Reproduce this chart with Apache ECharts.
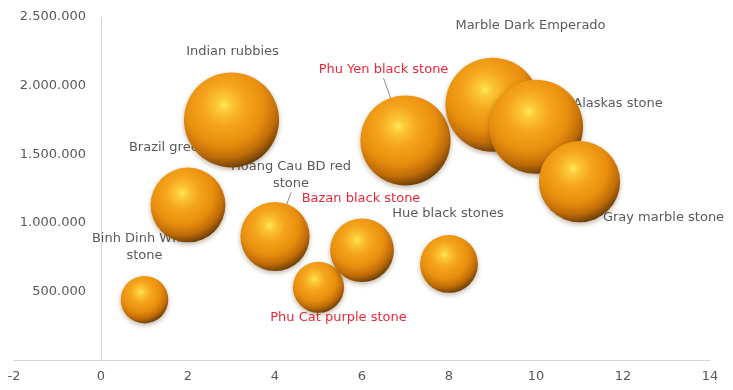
<!DOCTYPE html>
<html>
<head>
<meta charset="utf-8">
<script src="https://cdn.jsdelivr.net/npm/echarts@6/dist/echarts.min.js"></script>
<style>
  html, body { margin: 0; padding: 0; background: #ffffff; }
  #chart { width: 733px; height: 390px; }
</style>
</head>
<body>
<div id="chart"></div>
<script>
// Stone types, ordered by position on the horizontal axis
const stoneNames = [
  'Binh Dinh White\nstone',
  'Brazil green stone',
  'Indian rubbies',
  'Hoang Cau BD red\nstone',
  'Phu Cat purple stone',
  'Bazan black stone',
  'Phu Yen black stone',
  'Hue black stones',
  'Marble Dark Emperado',
  'Alaskas stone',
  'Gray marble stone'
];
const xValues = [1, 2, 3, 4, 5, 6, 7, 8, 9, 10, 11];
const yValues = [440000, 1130000, 1750000, 900000, 530000, 800000, 1600000, 700000, 1860000, 1700000, 1300000];
const bubbleSizes = [25, 62, 100, 53, 29, 45, 90, 37, 98, 98, 73];
// Local stones shown in red
const localStones = ['Phu Cat purple stone', 'Bazan black stone', 'Phu Yen black stone'];

// Axis ticks
const xTicks = [-2, 0, 2, 4, 6, 8, 10, 12, 14];
const yTicks = [0, 500000, 1000000, 1500000, 2000000, 2500000];

// Label placement relative to each bubble centre (pixels)
const labelOffsets = [[0, -53], [0, -57], [1, -68], [16, -61], [20, 30], [-1, -52], [-22, -71], [-1, -50], [38, -79], [82, -23], [84, 36]];
const labelLeaders = ['Hoang Cau BD red\nstone', 'Phu Yen black stone'];

const FONT = 'DejaVu Sans';
const FONT_SIZE = 13;
const LINE_H = 17;
const GREY = '#595959';
const RED = '#e8283a';
const AXIS = '#d4d4d4';

const fmtThousands = v => String(v).replace(/\B(?=(\d{3})+(?!\d))/g, '.');

const points = stoneNames.map((n, i) => [xValues[i], yValues[i], bubbleSizes[i]]);

// Labels (and their leader lines) are drawn in their own series beneath the bubbles
function renderLabel(params, api) {
  const i = params.dataIndex;
  const name = stoneNames[i];
  const c = api.coord([api.value(0), api.value(1)]);
  const off = labelOffsets[i];
  const lines = name.split('\n').length;
  const tx = c[0] + off[0];
  const ty = c[1] + off[1];
  const children = [];
  if (labelLeaders.includes(name)) {
    children.push({
      type: 'line',
      shape: { x1: tx, y1: ty + lines * LINE_H / 2, x2: c[0], y2: c[1] },
      style: { stroke: '#8c8c8c', lineWidth: 1 }
    });
  }
  children.push({
    type: 'text',
    x: tx,
    y: ty,
    style: {
      text: name,
      fill: localStones.includes(name) ? RED : GREY,
      fontFamily: FONT,
      fontSize: FONT_SIZE,
      lineHeight: LINE_H,
      align: 'center',
      verticalAlign: 'middle'
    }
  });
  return { type: 'group', children };
}

const chart = echarts.init(document.getElementById('chart'), null, { renderer: 'canvas' });
chart.setOption({
  animation: false,
  backgroundColor: '#ffffff',
  grid: { left: 14, right: 23, top: 17, bottom: 30, outerBoundsMode: 'none' },
  xAxis: {
    type: 'value',
    min: xTicks[0],
    max: xTicks[xTicks.length - 1],
    interval: xTicks[1] - xTicks[0],
    splitLine: { show: false },
    axisTick: { show: false },
    axisLine: { show: true, onZero: true, lineStyle: { color: AXIS, width: 1 } },
    axisLabel: { color: GREY, fontFamily: FONT, fontSize: 13, margin: 10 }
  },
  yAxis: {
    type: 'value',
    min: yTicks[0],
    max: yTicks[yTicks.length - 1],
    interval: yTicks[1] - yTicks[0],
    splitLine: { show: false },
    axisTick: { show: false },
    axisLine: { show: false, onZero: false },
    axisLabel: {
      color: GREY, fontFamily: FONT, fontSize: 13,
      // labels sit just left of the vertical line at x = 0
      margin: -72,
      showMinLabel: false,
      formatter: v => fmtThousands(v)
    }
  },
  series: [
    {
      type: 'custom',
      z: 1,
      silent: true,
      clip: false,
      data: points,
      renderItem: renderLabel,
      markLine: {
        silent: true,
        symbol: 'none',
        label: { show: false },
        lineStyle: { color: AXIS, width: 1, type: 'solid' },
        data: [[{ coord: [0, yTicks[0]] }, { coord: [0, yTicks[yTicks.length - 1]] }]]
      }
    },
    {
      type: 'scatter',
      z: 3,
      silent: true,
      data: points,
      symbolSize: v => Math.sqrt(v[2]) * 9.5,
      itemStyle: {
        opacity: 1,
        color: {
          type: 'radial', x: 0.42, y: 0.34, r: 0.7,
          colorStops: [
            { offset: 0, color: '#ffea5c' },
            { offset: 0.1, color: '#fcc93a' },
            { offset: 0.32, color: '#f5a41c' },
            { offset: 0.6, color: '#e88e0e' },
            { offset: 0.8, color: '#c06c08' },
            { offset: 0.93, color: '#7d4808' },
            { offset: 1, color: '#4a2c08' }
          ]
        },
        shadowColor: 'rgba(70,40,0,0.35)',
        shadowBlur: 5,
        shadowOffsetY: 2
      },
      label: { show: false }
    }
  ]
});
</script>
</body>
</html>
